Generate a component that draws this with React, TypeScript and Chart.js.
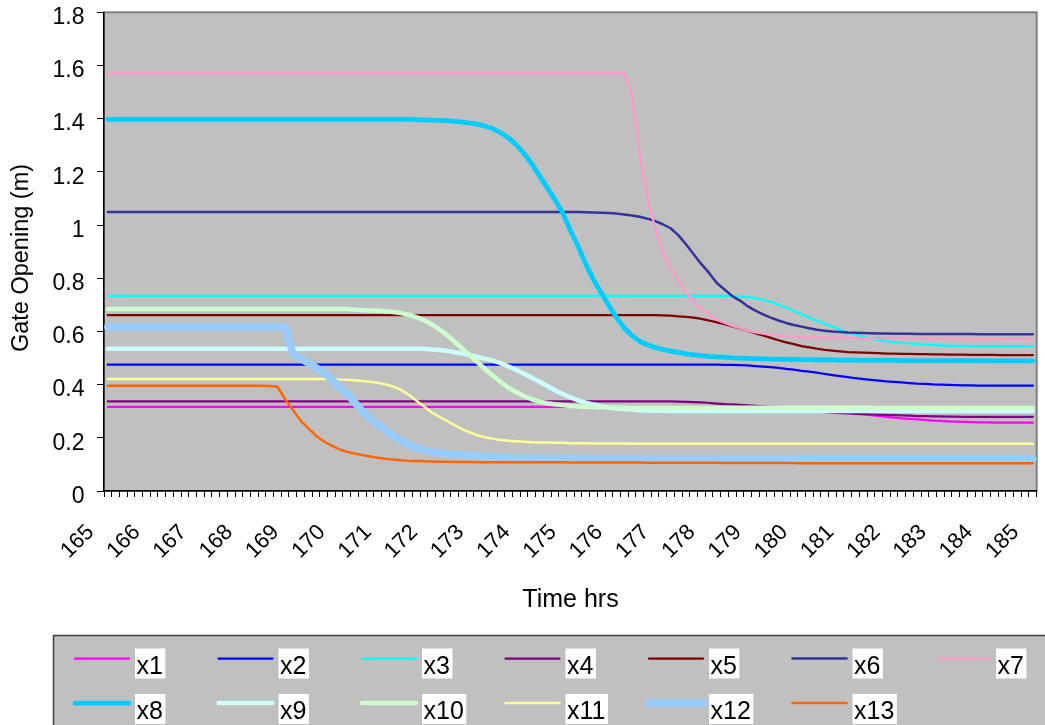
import React, { useEffect, useRef } from 'react';
import { Chart, registerables } from 'chart.js';

Chart.register(...registerables);

const FONT = "'Liberation Sans', Arial, sans-serif";

// Hour labels on the time axis; readings are every 10 minutes.
const hourTicks = ['165', '166', '167', '168', '169', '170', '171', '172', '173', '174', '175',
  '176', '177', '178', '179', '180', '181', '182', '183', '184', '185'];
const stepsPerHour = 6;

const seriesNames = ['x1', 'x2', 'x3', 'x4', 'x5', 'x6', 'x7', 'x8', 'x9', 'x10', 'x11', 'x12', 'x13'];
const seriesColors = ['#FF00FF', '#0000FF', '#00FFFF', '#800080', '#800000', '#333399', '#FF99CC',
  '#00CCFF', '#CCFFFF', '#CCFFCC', '#FFFF99', '#99CCFF', '#FF6600'];
const seriesWidths = [2.25, 2.25, 2.25, 2.25, 2.25, 2.5, 2.25, 4.75, 4.5, 4.5, 2.5, 7.5, 2.5];

// Gate openings (m), one value per 10-minute step from 165 h to 185 h
const x1 = [
  0.316, 0.316, 0.316, 0.316, 0.316, 0.316, 0.316, 0.316, 0.316, 0.316,
  0.316, 0.316, 0.316, 0.316, 0.316, 0.316, 0.316, 0.316, 0.316, 0.316,
  0.316, 0.316, 0.316, 0.316, 0.316, 0.316, 0.316, 0.316, 0.316, 0.316,
  0.316, 0.316, 0.316, 0.316, 0.316, 0.316, 0.316, 0.316, 0.316, 0.316,
  0.316, 0.316, 0.316, 0.316, 0.316, 0.316, 0.316, 0.316, 0.316, 0.316,
  0.316, 0.316, 0.316, 0.316, 0.316, 0.316, 0.316, 0.316, 0.316, 0.316,
  0.316, 0.316, 0.316, 0.316, 0.316, 0.316, 0.316, 0.316, 0.316, 0.316,
  0.316, 0.316, 0.316, 0.316, 0.316, 0.316, 0.316, 0.316, 0.316, 0.316,
  0.316, 0.316, 0.316, 0.316, 0.316, 0.316, 0.316, 0.316, 0.315, 0.314,
  0.313, 0.311, 0.309, 0.306, 0.303, 0.3, 0.296, 0.292, 0.289, 0.285,
  0.282, 0.279, 0.276, 0.273, 0.271, 0.269, 0.267, 0.265, 0.264, 0.262,
  0.261, 0.26, 0.259, 0.258, 0.258, 0.257, 0.257, 0.257, 0.257, 0.257,
  0.257,
];
const x2 = [
  0.475, 0.475, 0.475, 0.475, 0.475, 0.475, 0.475, 0.475, 0.475, 0.475,
  0.475, 0.475, 0.475, 0.475, 0.475, 0.475, 0.475, 0.475, 0.475, 0.475,
  0.475, 0.475, 0.475, 0.475, 0.475, 0.475, 0.475, 0.475, 0.475, 0.475,
  0.475, 0.475, 0.475, 0.475, 0.475, 0.475, 0.475, 0.475, 0.475, 0.475,
  0.475, 0.475, 0.475, 0.475, 0.475, 0.475, 0.475, 0.475, 0.475, 0.475,
  0.475, 0.475, 0.475, 0.475, 0.475, 0.475, 0.475, 0.475, 0.475, 0.475,
  0.475, 0.475, 0.475, 0.475, 0.475, 0.475, 0.475, 0.475, 0.475, 0.475,
  0.475, 0.475, 0.475, 0.475, 0.475, 0.475, 0.475, 0.475, 0.475, 0.475,
  0.474, 0.474, 0.473, 0.472, 0.47, 0.468, 0.466, 0.463, 0.459, 0.456,
  0.452, 0.449, 0.445, 0.44, 0.436, 0.432, 0.428, 0.424, 0.421, 0.418,
  0.415, 0.412, 0.41, 0.408, 0.406, 0.404, 0.403, 0.401, 0.4, 0.399,
  0.398, 0.397, 0.397, 0.396, 0.396, 0.396, 0.396, 0.396, 0.396, 0.396,
  0.396,
];
const x3 = [
  0.734, 0.734, 0.734, 0.734, 0.734, 0.734, 0.734, 0.734, 0.734, 0.734,
  0.734, 0.734, 0.734, 0.734, 0.734, 0.734, 0.734, 0.734, 0.734, 0.734,
  0.734, 0.734, 0.734, 0.734, 0.734, 0.734, 0.734, 0.734, 0.734, 0.734,
  0.734, 0.734, 0.734, 0.734, 0.734, 0.734, 0.734, 0.734, 0.734, 0.734,
  0.734, 0.734, 0.734, 0.734, 0.734, 0.734, 0.734, 0.734, 0.734, 0.734,
  0.734, 0.734, 0.734, 0.734, 0.734, 0.734, 0.734, 0.734, 0.734, 0.734,
  0.734, 0.734, 0.734, 0.734, 0.734, 0.734, 0.734, 0.734, 0.734, 0.734,
  0.734, 0.734, 0.734, 0.734, 0.734, 0.734, 0.734, 0.734, 0.734, 0.734,
  0.734, 0.733, 0.732, 0.729, 0.725, 0.719, 0.711, 0.701, 0.689, 0.677,
  0.665, 0.652, 0.64, 0.629, 0.618, 0.607, 0.596, 0.588, 0.58, 0.574,
  0.568, 0.564, 0.56, 0.557, 0.555, 0.553, 0.551, 0.549, 0.548, 0.547,
  0.546, 0.546, 0.545, 0.545, 0.545, 0.545, 0.545, 0.545, 0.545, 0.545,
  0.545,
];
const x4 = [
  0.337, 0.337, 0.337, 0.337, 0.337, 0.337, 0.337, 0.337, 0.337, 0.337,
  0.337, 0.337, 0.337, 0.337, 0.337, 0.337, 0.337, 0.337, 0.337, 0.337,
  0.337, 0.337, 0.337, 0.337, 0.337, 0.337, 0.337, 0.337, 0.337, 0.337,
  0.337, 0.337, 0.337, 0.337, 0.337, 0.337, 0.337, 0.337, 0.337, 0.337,
  0.337, 0.337, 0.337, 0.337, 0.337, 0.337, 0.337, 0.337, 0.337, 0.337,
  0.337, 0.337, 0.337, 0.337, 0.337, 0.337, 0.337, 0.337, 0.337, 0.337,
  0.337, 0.337, 0.337, 0.337, 0.337, 0.337, 0.337, 0.337, 0.337, 0.337,
  0.337, 0.337, 0.337, 0.337, 0.336, 0.335, 0.334, 0.333, 0.331, 0.329,
  0.327, 0.326, 0.324, 0.322, 0.32, 0.318, 0.315, 0.312, 0.309, 0.306,
  0.304, 0.301, 0.299, 0.297, 0.295, 0.293, 0.292, 0.29, 0.289, 0.288,
  0.287, 0.286, 0.285, 0.284, 0.283, 0.282, 0.282, 0.281, 0.281, 0.28,
  0.28, 0.279, 0.279, 0.279, 0.279, 0.279, 0.279, 0.279, 0.279, 0.279,
  0.279,
];
const x5 = [
  0.661, 0.661, 0.661, 0.661, 0.661, 0.661, 0.661, 0.661, 0.661, 0.661,
  0.661, 0.661, 0.661, 0.661, 0.661, 0.661, 0.661, 0.661, 0.661, 0.661,
  0.661, 0.661, 0.661, 0.661, 0.661, 0.661, 0.661, 0.661, 0.661, 0.661,
  0.661, 0.661, 0.661, 0.661, 0.661, 0.661, 0.661, 0.661, 0.661, 0.661,
  0.661, 0.661, 0.661, 0.661, 0.661, 0.661, 0.661, 0.661, 0.661, 0.661,
  0.661, 0.661, 0.661, 0.661, 0.661, 0.661, 0.661, 0.661, 0.661, 0.661,
  0.661, 0.661, 0.661, 0.661, 0.661, 0.661, 0.661, 0.661, 0.661, 0.661,
  0.661, 0.661, 0.66, 0.659, 0.657, 0.655, 0.652, 0.647, 0.641, 0.634,
  0.627, 0.619, 0.611, 0.602, 0.593, 0.585, 0.576, 0.567, 0.559, 0.552,
  0.545, 0.54, 0.535, 0.531, 0.528, 0.525, 0.522, 0.521, 0.52, 0.519,
  0.518, 0.517, 0.517, 0.516, 0.516, 0.515, 0.515, 0.514, 0.514, 0.513,
  0.513, 0.513, 0.512, 0.512, 0.512, 0.512, 0.511, 0.511, 0.511, 0.511,
  0.511,
];
const x6 = [
  1.049, 1.049, 1.049, 1.049, 1.049, 1.049, 1.049, 1.049, 1.049, 1.049,
  1.049, 1.049, 1.049, 1.049, 1.049, 1.049, 1.049, 1.049, 1.049, 1.049,
  1.049, 1.049, 1.049, 1.049, 1.049, 1.049, 1.049, 1.049, 1.049, 1.049,
  1.049, 1.049, 1.049, 1.049, 1.049, 1.049, 1.049, 1.049, 1.049, 1.049,
  1.049, 1.049, 1.049, 1.049, 1.049, 1.049, 1.049, 1.049, 1.049, 1.049,
  1.049, 1.049, 1.049, 1.049, 1.049, 1.049, 1.049, 1.049, 1.049, 1.049,
  1.049, 1.049, 1.048, 1.047, 1.046, 1.045, 1.043, 1.04, 1.036, 1.031,
  1.024, 1.015, 1.003, 0.988, 0.962, 0.928, 0.89, 0.853, 0.82, 0.782,
  0.758, 0.733, 0.716, 0.695, 0.678, 0.664, 0.652, 0.641, 0.632, 0.624,
  0.618, 0.612, 0.606, 0.603, 0.6, 0.598, 0.596, 0.595, 0.594, 0.593,
  0.592, 0.592, 0.591, 0.591, 0.591, 0.59, 0.59, 0.59, 0.59, 0.59,
  0.59, 0.59, 0.59, 0.589, 0.589, 0.589, 0.589, 0.589, 0.589, 0.589,
  0.589,
];
const x7 = [
  1.57, 1.57, 1.57, 1.57, 1.57, 1.57, 1.57, 1.57, 1.57, 1.57,
  1.57, 1.57, 1.57, 1.57, 1.57, 1.57, 1.57, 1.57, 1.57, 1.57,
  1.57, 1.57, 1.57, 1.57, 1.57, 1.57, 1.57, 1.57, 1.57, 1.57,
  1.57, 1.57, 1.57, 1.57, 1.57, 1.57, 1.57, 1.57, 1.57, 1.57,
  1.57, 1.57, 1.57, 1.57, 1.57, 1.57, 1.57, 1.57, 1.57, 1.57,
  1.57, 1.57, 1.57, 1.57, 1.57, 1.57, 1.57, 1.57, 1.57, 1.57,
  1.57, 1.57, 1.57, 1.57, 1.57, 1.57, 1.57, 1.57, 1.49, 1.265,
  1.1, 0.99, 0.895, 0.84, 0.79, 0.748, 0.712, 0.684, 0.662, 0.645,
  0.632, 0.621, 0.612, 0.602, 0.596, 0.592, 0.588, 0.585, 0.582, 0.58,
  0.579, 0.578, 0.578, 0.577, 0.577, 0.577, 0.576, 0.576, 0.575, 0.575,
  0.575, 0.575, 0.574, 0.574, 0.574, 0.574, 0.573, 0.573, 0.573, 0.573,
  0.573, 0.572, 0.572, 0.572, 0.572, 0.572, 0.571, 0.571, 0.571, 0.571,
  0.571,
];
const x8 = [
  1.397, 1.397, 1.397, 1.397, 1.397, 1.397, 1.397, 1.397, 1.397, 1.397,
  1.397, 1.397, 1.397, 1.397, 1.397, 1.397, 1.397, 1.397, 1.397, 1.397,
  1.397, 1.397, 1.397, 1.397, 1.397, 1.397, 1.397, 1.397, 1.397, 1.397,
  1.397, 1.397, 1.397, 1.397, 1.397, 1.397, 1.397, 1.397, 1.397, 1.397,
  1.396, 1.395, 1.395, 1.394, 1.393, 1.39, 1.387, 1.383, 1.379, 1.372,
  1.362, 1.347, 1.327, 1.301, 1.269, 1.23, 1.185, 1.14, 1.095, 1.046,
  0.98, 0.92, 0.853, 0.795, 0.745, 0.697, 0.652, 0.613, 0.585, 0.563,
  0.55, 0.54, 0.532, 0.526, 0.521, 0.516, 0.512, 0.509, 0.506, 0.504,
  0.503, 0.501, 0.5, 0.499, 0.498, 0.497, 0.496, 0.496, 0.495, 0.495,
  0.494, 0.494, 0.493, 0.493, 0.493, 0.492, 0.492, 0.492, 0.491, 0.491,
  0.491, 0.491, 0.491, 0.49, 0.49, 0.49, 0.49, 0.49, 0.49, 0.49,
  0.49, 0.49, 0.49, 0.489, 0.489, 0.489, 0.489, 0.489, 0.489, 0.489,
  0.489,
];
const x9 = [
  0.535, 0.535, 0.535, 0.535, 0.535, 0.535, 0.535, 0.535, 0.535, 0.535,
  0.535, 0.535, 0.535, 0.535, 0.535, 0.535, 0.535, 0.535, 0.535, 0.535,
  0.535, 0.535, 0.535, 0.535, 0.535, 0.535, 0.535, 0.535, 0.535, 0.535,
  0.535, 0.535, 0.535, 0.535, 0.535, 0.535, 0.535, 0.535, 0.535, 0.535,
  0.535, 0.535, 0.532, 0.53, 0.527, 0.522, 0.517, 0.511, 0.504, 0.497,
  0.49, 0.48, 0.468, 0.455, 0.441, 0.426, 0.411, 0.395, 0.379, 0.365,
  0.352, 0.341, 0.332, 0.325, 0.319, 0.314, 0.31, 0.308, 0.306, 0.304,
  0.303, 0.302, 0.302, 0.301, 0.301, 0.301, 0.301, 0.301, 0.301, 0.301,
  0.301, 0.301, 0.301, 0.301, 0.301, 0.301, 0.301, 0.301, 0.301, 0.301,
  0.301, 0.301, 0.301, 0.301, 0.301, 0.301, 0.301, 0.301, 0.301, 0.301,
  0.301, 0.301, 0.301, 0.301, 0.301, 0.301, 0.301, 0.301, 0.301, 0.301,
  0.301, 0.301, 0.301, 0.301, 0.301, 0.301, 0.301, 0.301, 0.301, 0.301,
  0.301,
];
const x10 = [
  0.684, 0.684, 0.684, 0.684, 0.684, 0.684, 0.684, 0.684, 0.684, 0.684,
  0.684, 0.684, 0.684, 0.684, 0.684, 0.684, 0.684, 0.684, 0.684, 0.684,
  0.684, 0.684, 0.684, 0.684, 0.684, 0.684, 0.684, 0.684, 0.684, 0.684,
  0.684, 0.684, 0.682, 0.681, 0.679, 0.678, 0.676, 0.673, 0.669, 0.663,
  0.654, 0.643, 0.627, 0.608, 0.586, 0.561, 0.535, 0.509, 0.483, 0.457,
  0.432, 0.409, 0.388, 0.371, 0.356, 0.345, 0.336, 0.33, 0.326, 0.323,
  0.32, 0.318, 0.317, 0.316, 0.315, 0.315, 0.314, 0.314, 0.313, 0.313,
  0.313, 0.313, 0.313, 0.313, 0.313, 0.313, 0.313, 0.313, 0.313, 0.313,
  0.313, 0.313, 0.313, 0.313, 0.313, 0.313, 0.313, 0.313, 0.313, 0.313,
  0.313, 0.313, 0.313, 0.313, 0.313, 0.313, 0.313, 0.313, 0.313, 0.313,
  0.312, 0.312, 0.312, 0.312, 0.312, 0.312, 0.312, 0.312, 0.312, 0.312,
  0.312, 0.312, 0.312, 0.312, 0.312, 0.312, 0.312, 0.312, 0.312, 0.312,
  0.312,
];
const x11 = [
  0.421, 0.421, 0.421, 0.421, 0.421, 0.421, 0.421, 0.421, 0.421, 0.421,
  0.421, 0.421, 0.421, 0.421, 0.421, 0.421, 0.421, 0.421, 0.421, 0.421,
  0.421, 0.421, 0.421, 0.421, 0.421, 0.421, 0.421, 0.421, 0.421, 0.421,
  0.419, 0.418, 0.416, 0.414, 0.411, 0.407, 0.401, 0.393, 0.381, 0.363,
  0.34, 0.318, 0.296, 0.279, 0.264, 0.247, 0.232, 0.22, 0.209, 0.202,
  0.196, 0.192, 0.189, 0.187, 0.185, 0.183, 0.182, 0.182, 0.181, 0.181,
  0.18, 0.18, 0.18, 0.179, 0.179, 0.179, 0.179, 0.179, 0.178, 0.178,
  0.178, 0.178, 0.178, 0.178, 0.178, 0.178, 0.178, 0.178, 0.178, 0.178,
  0.178, 0.178, 0.178, 0.178, 0.178, 0.178, 0.178, 0.178, 0.178, 0.178,
  0.178, 0.178, 0.178, 0.178, 0.178, 0.178, 0.178, 0.178, 0.178, 0.178,
  0.178, 0.178, 0.178, 0.178, 0.178, 0.178, 0.178, 0.178, 0.178, 0.178,
  0.178, 0.178, 0.178, 0.178, 0.178, 0.178, 0.178, 0.178, 0.178, 0.178,
  0.178,
];
const x12 = [
  0.617, 0.617, 0.617, 0.617, 0.617, 0.617, 0.617, 0.617, 0.617, 0.617,
  0.617, 0.617, 0.617, 0.617, 0.617, 0.617, 0.617, 0.617, 0.617, 0.617,
  0.617, 0.617, 0.617, 0.617, 0.517, 0.497, 0.481, 0.464, 0.446, 0.42,
  0.393, 0.367, 0.334, 0.301, 0.275, 0.25, 0.229, 0.208, 0.19, 0.175,
  0.163, 0.154, 0.147, 0.143, 0.14, 0.137, 0.135, 0.134, 0.132, 0.13,
  0.129, 0.128, 0.127, 0.126, 0.125, 0.124, 0.123, 0.123, 0.122, 0.122,
  0.122, 0.122, 0.121, 0.121, 0.121, 0.121, 0.121, 0.121, 0.121, 0.121,
  0.121, 0.121, 0.121, 0.121, 0.121, 0.121, 0.121, 0.121, 0.121, 0.121,
  0.12, 0.12, 0.12, 0.12, 0.12, 0.12, 0.12, 0.12, 0.12, 0.12,
  0.12, 0.12, 0.12, 0.12, 0.12, 0.12, 0.12, 0.12, 0.12, 0.12,
  0.12, 0.12, 0.12, 0.12, 0.12, 0.12, 0.12, 0.12, 0.12, 0.12,
  0.12, 0.12, 0.12, 0.12, 0.12, 0.12, 0.12, 0.12, 0.12, 0.12,
  0.12,
];
const x13 = [
  0.396, 0.396, 0.396, 0.396, 0.396, 0.396, 0.396, 0.396, 0.396, 0.396,
  0.396, 0.396, 0.396, 0.396, 0.396, 0.396, 0.396, 0.396, 0.396, 0.396,
  0.396, 0.395, 0.392, 0.345, 0.305, 0.265, 0.236, 0.208, 0.187, 0.171,
  0.157, 0.148, 0.141, 0.135, 0.13, 0.125, 0.121, 0.118, 0.116, 0.114,
  0.113, 0.112, 0.111, 0.11, 0.11, 0.109, 0.109, 0.109, 0.108, 0.108,
  0.108, 0.108, 0.108, 0.108, 0.108, 0.108, 0.108, 0.108, 0.108, 0.108,
  0.107, 0.107, 0.107, 0.107, 0.107, 0.107, 0.107, 0.107, 0.107, 0.107,
  0.106, 0.106, 0.106, 0.106, 0.106, 0.106, 0.106, 0.106, 0.106, 0.106,
  0.105, 0.105, 0.105, 0.105, 0.105, 0.105, 0.105, 0.105, 0.105, 0.105,
  0.104, 0.104, 0.104, 0.104, 0.104, 0.104, 0.104, 0.104, 0.104, 0.104,
  0.104, 0.104, 0.104, 0.104, 0.104, 0.104, 0.104, 0.104, 0.104, 0.104,
  0.104, 0.104, 0.104, 0.104, 0.104, 0.104, 0.104, 0.104, 0.104, 0.104,
  0.104,
];

const seriesValues = [x1, x2, x3, x4, x5, x6, x7, x8, x9, x10, x11, x12, x13];

// One category per 10-minute step; only the full hours carry a label.
const timeCategories: string[] = hourTicks.flatMap((h, k) =>
  k < hourTicks.length - 1 ? [h, ...Array(stepsPerHour - 1).fill('')] : [h]);

const W = 1045;
const H = 725;

const framePlugin = {
  id: 'frame',
  beforeDraw(chart: any) {
    const { ctx, chartArea: a } = chart;
    ctx.save();
    ctx.fillStyle = '#FFFFFF';
    ctx.fillRect(0, 0, chart.width, chart.height);
    ctx.fillStyle = '#C0C0C0';
    ctx.fillRect(a.left, a.top, a.right - a.left, a.bottom - a.top);
    ctx.strokeStyle = '#808080';
    ctx.lineWidth = 2;
    ctx.strokeRect(a.left, a.top, a.right - a.left, a.bottom - a.top);
    ctx.restore();
  },
  afterDraw(chart: any) {
    const { ctx } = chart;
    const xs = chart.scales.x;
    const ys = chart.scales.y;
    ctx.save();
    ctx.fillStyle = '#000';

    // value-axis labels, right-aligned left of the tick marks
    ctx.font = `23px ${FONT}`;
    ctx.textAlign = 'right';
    ctx.textBaseline = 'alphabetic';
    ys.ticks.forEach((t: any) => {
      const py = ys.getPixelForValue(t.value);
      ctx.fillText(String(Math.round(t.value * 10) / 10), 84.5, py + 11.8);
    });

    // hour labels, rotated 45 degrees, ending just left of their category
    ctx.font = `22px ${FONT}`;
    hourTicks.forEach((h, k) => {
      const px = xs.getPixelForValue(k * stepsPerHour);
      ctx.save();
      ctx.translate(px - 13, 533);
      ctx.rotate(-Math.PI / 4);
      ctx.fillText(h, 0, 0);
      ctx.restore();
    });

    // axis titles
    ctx.font = `25px ${FONT}`;
    ctx.textAlign = 'center';
    ctx.fillText('Time hrs', 570.5, 607);
    ctx.font = `23.5px ${FONT}`;
    ctx.save();
    ctx.translate(28, 258);
    ctx.rotate(-Math.PI / 2);
    ctx.fillText('Gate Opening (m)', 0, 0);
    ctx.restore();

    // legend box
    ctx.fillStyle = '#C0C0C0';
    ctx.fillRect(53, 635, 1000, 100);
    ctx.strokeStyle = '#404040';
    ctx.lineWidth = 1.5;
    ctx.strokeRect(53.5, 635.5, 1000, 100);

    ctx.font = `25px ${FONT}`;
    ctx.textAlign = 'left';
    seriesNames.forEach((name, k) => {
      const col = k % 7;
      const row = Math.floor(k / 7);
      const x0 = 74 + col * 143.5;
      const ly = row ? 703 : 658.5;
      const by = row ? 719 : 673.5;
      ctx.strokeStyle = seriesColors[k];
      ctx.lineWidth = seriesWidths[k];
      ctx.lineCap = 'round';
      ctx.beginPath();
      ctx.moveTo(x0 + 1, ly);
      ctx.lineTo(x0 + 55, ly);
      ctx.stroke();
      const w = ctx.measureText(name).width;
      ctx.fillStyle = '#FFFFFF';
      ctx.fillRect(x0 + 61, by - 25, w + 4, 30);
      ctx.fillStyle = '#000';
      ctx.fillText(name, x0 + 62.5, by);
    });
    ctx.restore();
  },
};

export default function App() {
  const canvasRef = useRef<HTMLCanvasElement | null>(null);

  useEffect(() => {
    const canvas = canvasRef.current;
    if (!canvas) return;
    const chart = new Chart(canvas, {
      type: 'line',
      data: {
        labels: timeCategories,
        datasets: seriesNames.map((name, k) => ({
          label: name,
          data: seriesValues[k],
          borderColor: seriesColors[k],
          backgroundColor: seriesColors[k],
          borderWidth: seriesWidths[k],
          pointRadius: 0,
          pointHoverRadius: 0,
          tension: 0,
          fill: false,
          borderCapStyle: 'round',
          borderJoinStyle: 'round',
          order: seriesNames.length - k,
        })),
      },
      options: {
        animation: false,
        responsive: false,
        maintainAspectRatio: false,
        events: [],
        layout: { padding: { left: 0, top: 12.3, right: 8.3, bottom: 0 } },
        plugins: {
          legend: { display: false },
          tooltip: { enabled: false },
          title: { display: false },
        },
        scales: {
          x: {
            type: 'category',
            offset: true,
            grid: {
              offset: true,
              drawOnChartArea: false,
              drawTicks: true,
              tickLength: 6,
              color: '#000',
              lineWidth: 1,
            },
            border: { display: true, color: '#000', width: 1.5 },
            ticks: { display: false, autoSkip: false, maxRotation: 0, minRotation: 0 },
            afterFit: (s: any) => {
              s.height = H - 491;
              s.paddingLeft = 0;
              s.paddingRight = 0;
            },
          },
          y: {
            min: 0,
            max: 1.8,
            ticks: { display: false, stepSize: 0.2 },
            grid: {
              drawOnChartArea: false,
              drawTicks: true,
              tickLength: 7,
              color: '#000',
            },
            border: { display: true, color: '#000', width: 1.5 },
            afterFit: (s: any) => {
              s.width = 104;
              s.paddingTop = 0;
              s.paddingBottom = 0;
            },
          },
        },
      } as any,
      plugins: [framePlugin],
    });
    return () => chart.destroy();
  }, []);

  return (
    <div style={{ position: 'fixed', left: 0, top: 0, width: W, height: H, background: '#fff' }}>
      <canvas ref={canvasRef} width={W} height={H} style={{ width: W, height: H, display: 'block' }} />
    </div>
  );
}
